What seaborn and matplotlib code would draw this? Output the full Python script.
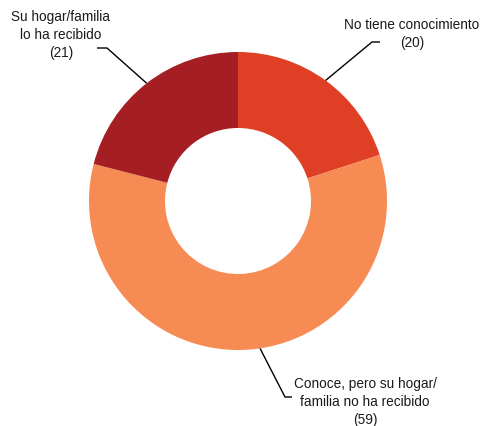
import numpy as np
import seaborn as sns
from matplotlib import pyplot as plt

labels = ["No tiene conocimiento", "Conoce, pero su hogar/\nfamilia no ha recibido", "Su hogar/familia\nlo ha recibido"]
values = [20, 59, 21]
colors = ["#df4025", "#f68b54", "#a41e23"]

sns.set_theme(style="white")
plt.rcParams['font.family'] = ['Liberation Sans', 'DejaVu Sans']

W, H = 485, 426
fig = plt.figure(figsize=(W / 100, H / 100), dpi=100)
ax = fig.add_axes([0, 0, 1, 1])

cx, cy, R = 238, H - 201, 149
wedges, _ = ax.pie(values, colors=colors, startangle=90, counterclock=False,
                   center=(cx, cy), radius=R, frame=True,
                   wedgeprops=dict(width=R - 73, linewidth=0))
ax.set_xlim(0, W)
ax.set_ylim(0, H)
ax.set_aspect('equal')
ax.axis('off')

# leader lines: anchor on the outer edge -> elbow -> end of horizontal tick
anchor_shift = [0, 6.7, 0]          # degrees moved from slice middle
elbows = [(372, H - 42), (285, H - 397), (107, H - 48)]
ends = [(380, H - 42), (292, H - 397), (97, H - 48)]
text_pos = [(412, H - 34), (365, H - 402), (61, H - 35)]

for i, w in enumerate(wedges):
    mid = np.deg2rad((w.theta1 + w.theta2) / 2 + anchor_shift[i])
    ax0 = cx + R * np.cos(mid)
    ay0 = cy + R * np.sin(mid)
    ex, ey = elbows[i]
    fx, fy = ends[i]
    ax.plot([ax0, ex, fx], [ay0, ey, fy], color='black', lw=1, solid_capstyle='butt')
    ax.text(text_pos[i][0], text_pos[i][1], f"{labels[i]}\n({values[i]})",
            ha='center', va='center', fontsize=9.8, linespacing=1.38, color='#1a1a1a')

fig.savefig("out.png", dpi=100)
